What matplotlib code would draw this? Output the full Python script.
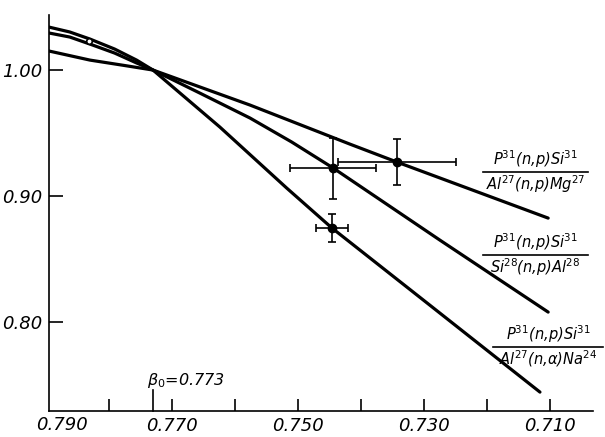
import matplotlib
matplotlib.use("Agg")
import matplotlib.pyplot as plt
from matplotlib.lines import Line2D

# ---- data ----
mg_x = [0.7895, 0.7830, 0.7775, 0.7730, 0.7576, 0.7418, 0.7343, 0.7103]
mg_y = [1.0151, 1.0079, 1.0036, 1.0000, 0.9722, 0.9413, 0.9270, 0.8825]

al_x = [0.7895, 0.7862, 0.7830, 0.7791, 0.7756, 0.7730, 0.7656, 0.7576, 0.7510, 0.7444, 0.7275, 0.7103]
al_y = [1.0294, 1.0262, 1.0206, 1.0135, 1.0056, 1.0000, 0.9818, 0.9619, 0.9429, 0.9222, 0.8651, 0.8079]

na_x = [0.7895, 0.7862, 0.7830, 0.7791, 0.7756, 0.7730, 0.7624, 0.7518, 0.7446, 0.7291, 0.7116]
na_y = [1.0341, 1.0302, 1.0246, 1.0167, 1.0079, 1.0000, 0.9548, 0.9064, 0.8746, 0.8135, 0.7444]

pt_x = [0.7343, 0.7444, 0.7446]
pt_y = [0.927, 0.922, 0.8746]
pt_xerr = [0.0093, 0.0068, 0.0025]
pt_yerr = [0.0185, 0.024, 0.011]

open_x = [0.7832]
open_y = [1.0228]

xtick_major = [0.770, 0.750, 0.730, 0.710]
xtick_major_labels = ["0.770", "0.750", "0.730", "0.710"]
xtick_minor = [0.780, 0.760, 0.740, 0.720]
ytick_vals = [1.00, 0.90, 0.80]
ytick_labels = ["1.00", "0.90", "0.80"]
beta0 = 0.773

fig = plt.figure(figsize=(6.05, 4.37), dpi=100)
ax = fig.add_axes([0.081, 0.0595, 0.899, 0.9062])
ax.set_xlim(0.7895, 0.7032)
ax.set_ylim(0.7294, 1.0437)

for s in ["top", "right"]:
    ax.spines[s].set_visible(False)
for s in ["left", "bottom"]:
    ax.spines[s].set_linewidth(1.2)

lw = 2.3
for xs, ys in [(mg_x, mg_y), (al_x, al_y), (na_x, na_y)]:
    ax.plot(xs, ys, color="black", lw=lw, solid_capstyle="round", solid_joinstyle="round")

ax.errorbar(pt_x, pt_y, xerr=pt_xerr, yerr=pt_yerr, fmt="o", color="black",
            markersize=6, elinewidth=1.2, capsize=3, capthick=1.2)
ax.plot(open_x, open_y, "o", mfc="white", mec="black", ms=4, mew=1.2)

fs = 13
ax.set_xticks(xtick_major)
ax.set_xticklabels(xtick_major_labels, fontsize=fs, style="italic")
ax.set_xticks(xtick_minor, minor=True)
ax.tick_params(axis="x", which="both", direction="in", length=9, width=1.2, pad=4)
ax.set_yticks(ytick_vals)
ax.set_yticklabels(ytick_labels, fontsize=fs, style="italic")
ax.tick_params(axis="y", direction="in", length=10, width=1.2, pad=5)

# 0.790 label at the axis start
ax.text(0.7875, 0.7294 - 0.004, "0.790", fontsize=fs, style="italic",
        ha="center", va="top", clip_on=False)

# beta0 tick and label
ax.plot([beta0, beta0], [0.7294, 0.7294 + 0.017], color="black", lw=1.2, clip_on=False)
ax.text(beta0 + 0.0009, 0.7294 + 0.0165, r"$\beta_0$=0.773", fontsize=11.5,
        style="italic", ha="left", va="bottom")

# fraction labels (pixel positions converted to figure coords)
W, H = 605.0, 437.0
def frac(num, den, x0, x1, ybar):
    xc = (x0 + x1) / 2 / W
    yb = 1 - ybar / H
    fig.text(xc, yb + 2.0 / H, num, ha="center", va="bottom", fontsize=10.5, style="italic")
    fig.text(xc, yb - 1.5 / H, den, ha="center", va="top", fontsize=10.5, style="italic")
    fig.add_artist(Line2D([x0 / W, x1 / W], [yb, yb], color="black", lw=1.2))

frac(r"P$^{31}$(n,p)Si$^{31}$", r"Al$^{27}$(n,p)Mg$^{27}$", 483, 588, 172)
frac(r"P$^{31}$(n,p)Si$^{31}$", r"Si$^{28}$(n,p)Al$^{28}$", 483, 588, 255)
frac(r"P$^{31}$(n,p)Si$^{31}$", r"Al$^{27}$(n,$\alpha$)Na$^{24}$", 493, 603, 347)

fig.savefig("out.png", dpi=100)
